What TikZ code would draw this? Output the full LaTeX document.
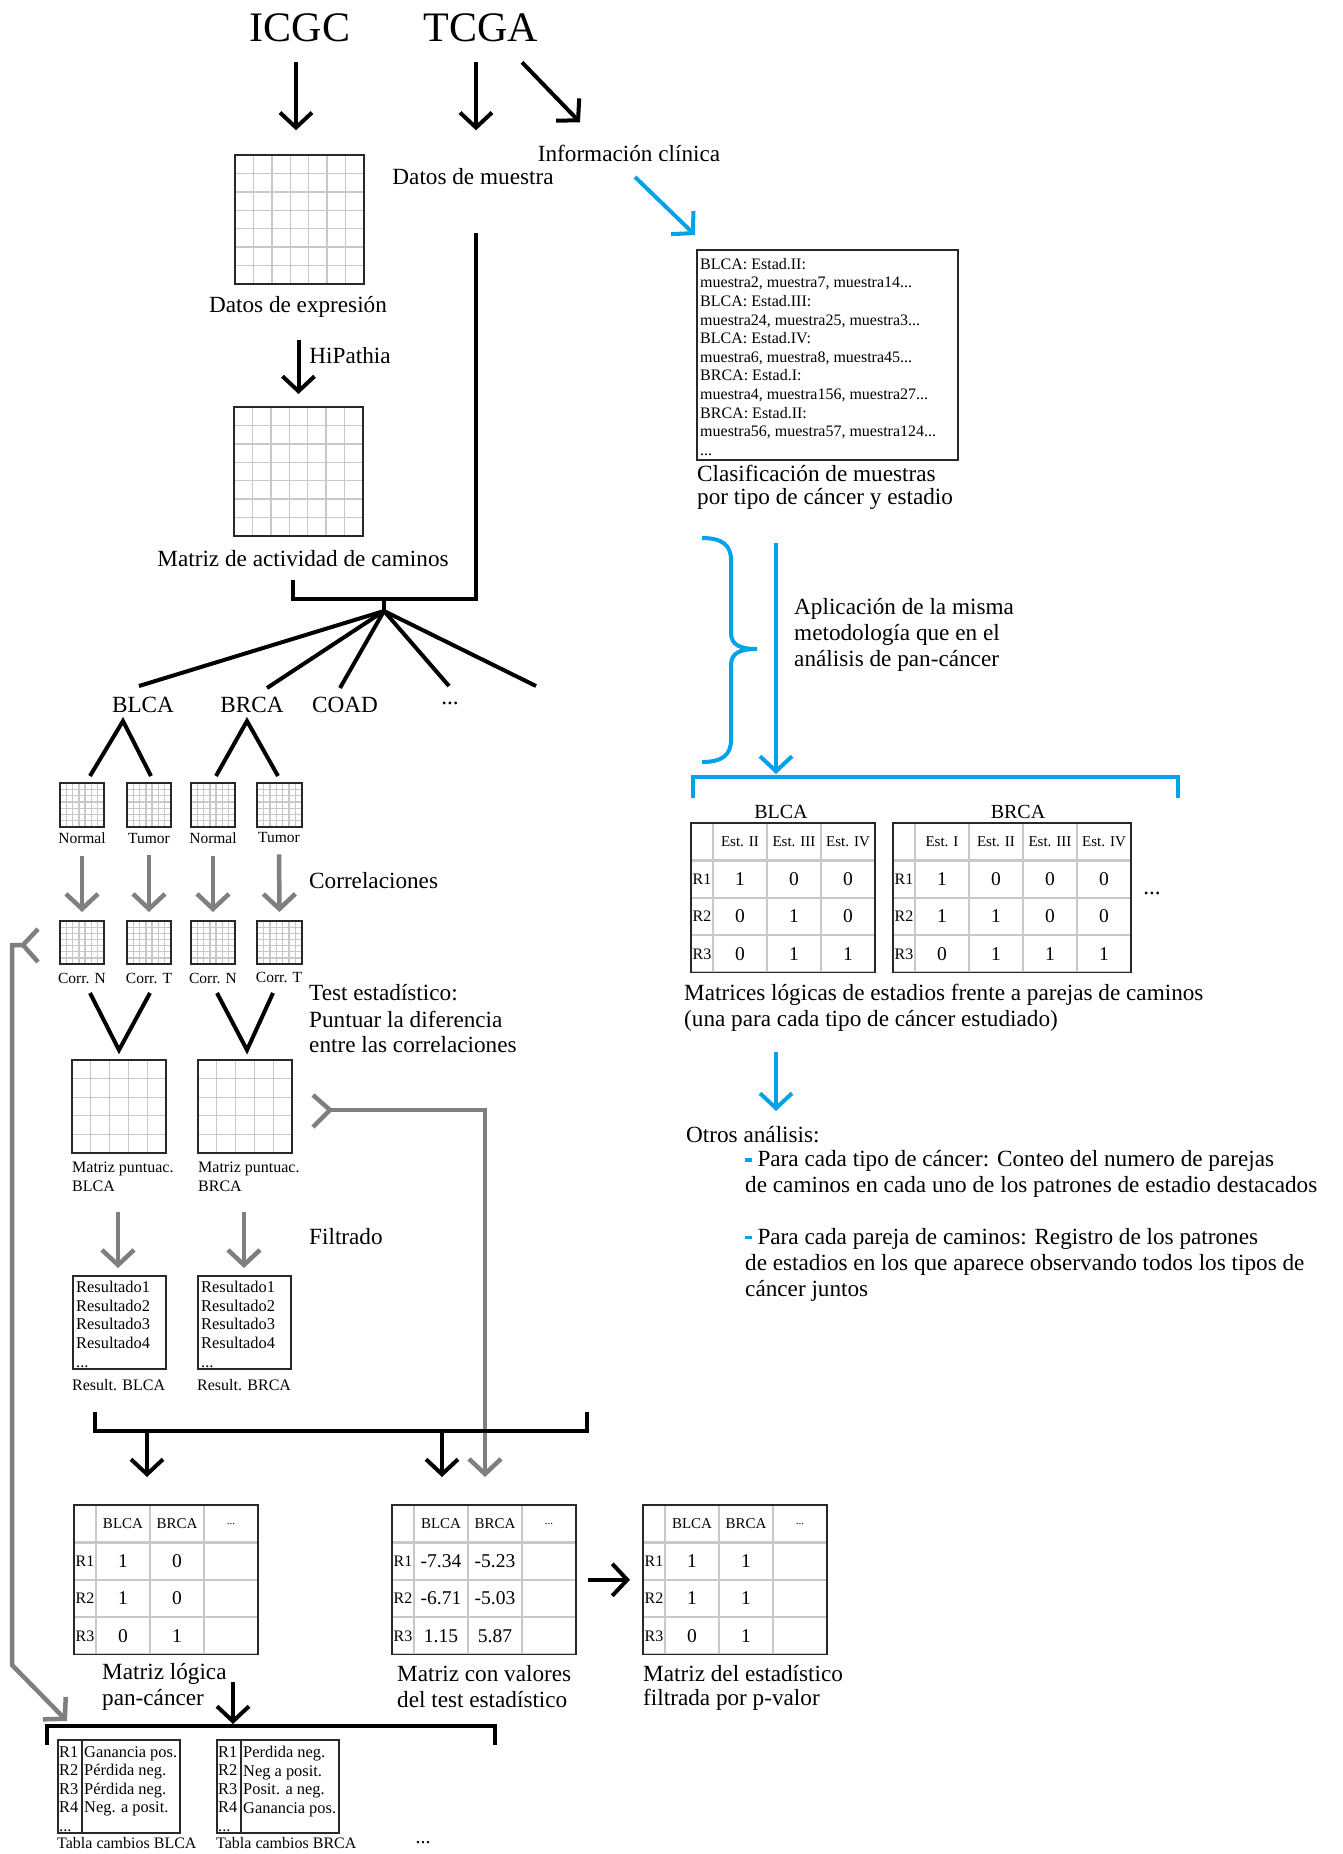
\documentclass[tikz,border=0pt]{standalone}
\usepackage{fontspec}
\setmainfont{Liberation Serif}
\usetikzlibrary{arrows.meta,matrix}
\definecolor{pblue}{RGB}{0,162,232}
\definecolor{pgray}{RGB}{127,127,127}
\definecolor{lgray}{RGB}{200,200,200}
\definecolor{dk}{RGB}{40,40,40}

\tikzset{
  T/.style={inner sep=0pt, font=\fontsize{23.2}{26}\selectfont},
  TL/.style={T, anchor=west},
  S/.style={inner sep=0pt, font=\fontsize{16}{18.6}\selectfont},
  SL/.style={S, anchor=west},
  XS/.style={inner sep=0pt, font=\fontsize{15.5}{18}\selectfont},
  arrtip/.style={-{Straight Barb[length=15pt,width=32pt]}},
  blk/.style={line width=4pt, black},
  arr/.style={blk, arrtip},
  gline/.style={line width=4.5pt, pgray},
  garr/.style={gline, arrtip},
  bline/.style={line width=4pt, pblue},
  barr/.style={bline, arrtip},
  gridln/.style={lgray, line width=1.3pt},
  box/.style={draw=dk, line width=1.5pt},
  tbl/.style={matrix of nodes, nodes in empty cells, inner sep=0pt, outer sep=0pt,
    row sep=0pt, column sep=0pt, anchor=north west,
    nodes={draw=lgray, line width=1.2pt, inner sep=0pt, outer sep=0pt, anchor=center,
      font=\fontsize{19.5}{22}\selectfont, minimum width=52.8pt, minimum height=36.2pt},
    column 1/.style={nodes={minimum width=20.8pt, font=\fontsize{16}{17}\selectfont}},
    row 1/.style={nodes={font=\fontsize{15}{17}\selectfont}}},
}
\newcommand\bdashmark{\textcolor{pblue}{\rule[0.22em]{0.28em}{0.14em}}}

\newcommand\mgrid[6]{%
  \pgfmathtruncatemacro\mygn{#6-1}%
  \foreach \k in {1,...,\mygn}{%
    \draw[gridln] ({#2+(#4-#2)*\k/#6},#3) -- ({#2+(#4-#2)*\k/#6},#5);
    \draw[gridln] (#2,{#3+(#5-#3)*\k/#6}) -- (#4,{#3+(#5-#3)*\k/#6});
  }%
  \node[box, inner sep=0pt, outer sep=0pt, anchor=north west,
    minimum width={(#4-#2)*1pt}, minimum height={(#5-#3)*1pt}] (#1) at (#2,#3) {};%
}

\begin{document}
\begin{tikzpicture}[x=1pt,y=-1pt]
\useasboundingbox[fill=white] (0,0) rectangle (1343,1854);

% ---------- top ----------
\node[inner sep=0pt, font=\fontsize{42}{48}\selectfont] (icgc) at (300,28) {ICGC};
\node[inner sep=0pt, font=\fontsize{42}{48}\selectfont] (tcga) at (481,28) {TCGA};
\node[T] (infc) at (629,153) {Información clínica};
\node[T] (dmues) at (473,177) {Datos de muestra};

\mgrid{g1}{235}{155}{364}{284}{7}
\node[T] (dexp) at (298,307) {Datos de expresión};
\node[T] (hip) at (350,356) {HiPathia};
\mgrid{g2}{234}{407}{363}{536}{7}
\node[T] (mact) at (303,559) {Matriz de actividad de caminos};

\draw[arr] (icgc.south) ++(-4,20) -- ++(0,68);
\draw[arr] (tcga.south) ++(-5,20) -- ++(0,68);
\draw[arr] (tcga.south) ++(41,20) -- ++(58,60);
\draw[arr, shorten <=22pt, shorten >=13pt] (dexp.south -| g2.north) -- (g2.north);
\draw[barr] (infc.center) ++(6,24) coordinate (bl1) -- ++(60,58) coordinate (bl2);

% join and fan
\coordinate (fan) at (384,611);
\draw[blk] (dmues.south) ++(3,48) -- (476,599) -- (293,599) -- (293,580);
\draw[blk] (384,599) -- (fan);
\node[T] (blca) at (143,705) {BLCA};
\node[T] (brca) at (252,705) {BRCA};
\node[T] (coad) at (345,705) {COAD};
\node[T] (dots1) at (450,703) {...};
\draw[blk] (fan) -- (139,686);
\draw[blk] (fan) -- (267,688);
\draw[blk] (fan) -- (340,688);
\draw[blk] (fan) -- (449,686);
\draw[blk] (fan) -- (536,686);

\draw[blk] (90,776) -- (123,721) -- (151,776);
\draw[blk] (216,776) -- (247,721) -- (278,776);

% small grids
\mgrid{n1}{60}{783}{104}{827}{7}
\mgrid{t1}{127}{783}{171}{827}{7}
\mgrid{n2}{191}{783}{235}{827}{7}
\mgrid{t2}{257}{783}{302}{827}{7}
\node[XS] (n1l) at (82,838) {Normal};
\node[XS] (t1l) at (149,838) {Tumor};
\node[XS] (n2l) at (213,838) {Normal};
\node[XS] (t2l) at (279,837) {Tumor};

\mgrid{c1}{60}{921}{104}{964}{7}
\mgrid{c2}{127}{921}{171}{964}{7}
\mgrid{c3}{191}{921}{235}{964}{7}
\mgrid{c4}{257}{921}{302}{964}{7}
\node[XS] (c1l) at (82,978) {Corr. N};
\node[XS] (c2l) at (149,978) {Corr. T};
\node[XS] (c3l) at (213,978) {Corr. N};
\node[XS] (c4l) at (279,977) {Corr. T};

\draw[garr, shorten <=12pt, shorten >=9pt] (n1l.south) -- (c1.north);
\draw[garr, shorten <=12pt, shorten >=9pt] (t1l.south) -- (c2.north);
\draw[garr, shorten <=12pt, shorten >=9pt] (n2l.south) -- (c3.north);
\draw[garr, shorten <=12pt, shorten >=9pt] (t2l.south) -- (c4.north);

\node[TL] (corr) at (309,881) {Correlaciones};
\node[TL] (test1) at (309,993) {Test estadístico:};
\node[TL] (test2) at (309,1019) {Puntuar la diferencia};
\node[TL] (test3) at (309,1045) {entre las correlaciones};

\draw[blk] (90,993) -- (119,1050) -- (150,993);
\draw[blk] (217,993) -- (247,1050) -- (273,993);

\mgrid{mp1}{72}{1060}{166}{1153}{5}
\mgrid{mp2}{198}{1060}{292}{1153}{5}
\node[S, align=left, anchor=north west, font=\fontsize{16}{19}\selectfont] (mp1l) at (72,1162) {Matriz puntuac.\\BLCA};
\node[S, align=left, anchor=north west, font=\fontsize{16}{19}\selectfont] (mp2l) at (198,1162) {Matriz puntuac.\\BRCA};

\draw[garr] (118,1212) -- (118,1268);
\draw[garr] (244,1212) -- (244,1268);
\node[TL] (filt) at (309,1237) {Filtrado};

\node[box, inner sep=0pt, anchor=north west, minimum width=93pt, minimum height=93pt] (r1) at (72,1275) {};
\node[box, inner sep=0pt, anchor=north west, minimum width=93pt, minimum height=93pt] (r2) at (197,1275) {};
\node[S, align=left, anchor=north west, font=\fontsize{16.4}{18.7}\selectfont] (r1t) at (76,1281) {Resultado1\\Resultado2\\Resultado3\\Resultado4\\...};
\node[S, align=left, anchor=north west, font=\fontsize{16.4}{18.7}\selectfont] (r2t) at (201,1281) {Resultado1\\Resultado2\\Resultado3\\Resultado4\\...};
\node[SL] (r1l) at (72,1385) {Result. BLCA};
\node[SL] (r2l) at (197,1385) {Result. BRCA};

% gray feedback paths
\draw[gline] (313,1095) -- (330,1110) -- (313,1127);
\draw[garr] (330,1110) -- (485,1110) -- (485,1477);
\draw[gline] (38,929) -- (23,945) -- (38,962);
\draw[garr] (23,945) -- (12,945) -- (12,1665) -- (67,1721);

% bracket to bottom tables
\draw[blk] (95,1412) -- (95,1431) -- (587,1431) -- (587,1412);
\draw[arr] (147,1431) -- (147,1477);
\draw[arr] (442,1431) -- (442,1477);

% bottom tables
\matrix[tbl] (tb3) at (74,1505) {
   & BLCA & BRCA & |[font=\fontsize{11}{12}\selectfont]| ... \\
R1 & 1 & 0 & \\
R2 & 1 & 0 & \\
R3 & 0 & 1 & \\
};
\draw[box] (tb3.north west) rectangle (tb3.south east);
\matrix[tbl] (tb4) at (392,1505) {
   & BLCA & BRCA & |[font=\fontsize{11}{12}\selectfont]| ... \\
R1 & -7.34 & -5.23 & \\
R2 & -6.71 & -5.03 & \\
R3 & 1.15 & 5.87 & \\
};
\draw[box] (tb4.north west) rectangle (tb4.south east);
\matrix[tbl] (tb5) at (643,1505) {
   & BLCA & BRCA & |[font=\fontsize{11}{12}\selectfont]| ... \\
R1 & 1 & 1 & \\
R2 & 1 & 1 & \\
R3 & 0 & 1 & \\
};
\draw[box] (tb5.north west) rectangle (tb5.south east);
\draw[arr, shorten <=12pt, shorten >=13pt] (tb4.east) -- (tb5.west);

\node[TL] (ml1) at (102,1674) {Matriz lógica};
\node[TL] (ml2) at (102,1700) {pan-cáncer};
\node[TL] (mv1) at (397,1674) {Matriz con valores};
\node[TL] (mv2) at (397,1700) {del test estadístico};
\node[TL] (mf1) at (643,1674) {Matriz del estadístico};
\node[TL] (mf2) at (643,1700) {filtrada por p-valor};

\draw[arr] (233,1682) -- (233,1724);
\draw[blk] (47,1745) -- (47,1726) -- (495,1726) -- (495,1745);

% change tables
\node[box, inner sep=0pt, anchor=north west, minimum width=122pt, minimum height=93pt] (ct1) at (57,1739) {};
\draw[box] (82,1739) -- (82,1832);
\node[box, inner sep=0pt, anchor=north west, minimum width=122pt, minimum height=93pt] (ct2) at (216,1739) {};
\draw[box] (241,1739) -- (241,1832);
\node[S, align=left, anchor=north west, font=\fontsize{16.4}{18.5}\selectfont] (ct1a) at (59,1746) {R1\\R2\\R3\\R4\\...};
\node[S, align=left, anchor=north west, font=\fontsize{16.4}{18.5}\selectfont] (ct1b) at (84,1746) {Ganancia pos.\\Pérdida neg.\\Pérdida neg.\\Neg. a posit.};
\node[S, align=left, anchor=north west, font=\fontsize{16.4}{18.5}\selectfont] (ct2a) at (218,1746) {R1\\R2\\R3\\R4\\...};
\node[S, align=left, anchor=north west, font=\fontsize{16.4}{18.5}\selectfont] (ct2b) at (243,1746) {Perdida neg.\\Neg a posit.\\Posit. a neg.\\Ganancia pos.};
\node[SL] (ct1l) at (57,1843) {Tabla cambios BLCA};
\node[SL] (ct2l) at (216,1843) {Tabla cambios BRCA};
\node[S] (dots3) at (423,1843) {\fontsize{20}{22}\selectfont...};

% ---------- right side ----------
\node[box, inner sep=0pt, anchor=north west, minimum width=261pt, minimum height=210pt] (clasif) at (696,249) {};
\node[S, align=left, anchor=north west] (clasift) at (700,258) {BLCA: Estad.II:\\muestra2, muestra7, muestra14...\\BLCA: Estad.III:\\muestra24, muestra25, muestra3...\\BLCA: Estad.IV:\\muestra6, muestra8, muestra45...\\BRCA: Estad.I:\\muestra4, muestra156, muestra27...\\BRCA: Estad.II:\\muestra56, muestra57, muestra124...\\...};
\node[TL] (cl1) at (697,473) {Clasificación de muestras};
\node[TL] (cl2) at (697,499) {por tipo de cáncer y estadio};

\draw[bline] (702,538) .. controls (722,538) and (731,545) .. (731,560) -- (731,633)
  .. controls (731,645) and (740,649) .. (757,649)
  .. controls (740,649) and (731,653) .. (731,665) -- (731,740)
  .. controls (731,755) and (722,762) .. (702,762);
\draw[barr] (776,543) -- (776,774);
\draw[bline] (693,798) -- (693,777) -- (1178,777) -- (1178,798);
\node[TL] (ap1) at (794,609) {Aplicación de la misma};
\node[TL] (ap2) at (794,635) {metodología que en el};
\node[TL] (ap3) at (794,661) {análisis de pan-cáncer};

\node[inner sep=0pt, font=\fontsize{20}{22}\selectfont] (tb1t) at (781,812) {BLCA};
\node[inner sep=0pt, font=\fontsize{20}{22}\selectfont] (tb2t) at (1018,812) {BRCA};
\matrix[tbl] (tb1) at (691,823) {
   & Est. II & Est. III & Est. IV \\
R1 & 1 & 0 & 0 \\
R2 & 0 & 1 & 0 \\
R3 & 0 & 1 & 1 \\
};
\draw[box] (tb1.north west) rectangle (tb1.south east);
\matrix[tbl] (tb2) at (893,823) {
   & Est. I & Est. II & Est. III & Est. IV \\
R1 & 1 & 0 & 0 & 0 \\
R2 & 1 & 1 & 0 & 0 \\
R3 & 0 & 1 & 1 & 1 \\
};
\draw[box] (tb2.north west) rectangle (tb2.south east);
\node[T] (dots2) at (1152,893) {...};

\node[TL] (mat1) at (684,995) {Matrices lógicas de estadios frente a parejas de caminos};
\node[TL] (mat2) at (684,1021) {(una para cada tipo de cáncer estudiado)};

\draw[barr] (776,1052) -- (776,1111);
\node[TL] (otros) at (686,1135) {Otros análisis:};
\node[TL] (o1) at (745,1161) {\bdashmark\ Para cada tipo de cáncer: Conteo del numero de parejas};
\node[TL] (o2) at (745,1187) {de caminos en cada uno de los patrones de estadio destacados};
\node[TL] (o3) at (745,1239) {\bdashmark\ Para cada pareja de caminos: Registro de los patrones};
\node[TL] (o4) at (745,1265) {de estadios en los que aparece observando todos los tipos de};
\node[TL] (o5) at (745,1291) {cáncer juntos};
\end{tikzpicture}
\end{document}
